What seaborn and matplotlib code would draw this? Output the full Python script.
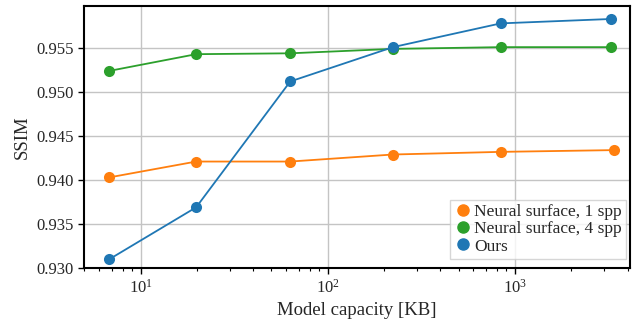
import numpy as np
import pandas as pd
import matplotlib
matplotlib.use("Agg")
import matplotlib.pyplot as plt
from matplotlib.lines import Line2D
import seaborn as sns

capacity_kb = [6.8, 19.8, 63, 223, 840, 3260]
ssim_1spp = [0.9403, 0.9421, 0.9421, 0.9429, 0.9432, 0.9434]
ssim_4spp = [0.9524, 0.9543, 0.9544, 0.9549, 0.9551, 0.9551]
ssim_ours = [0.9310, 0.9369, 0.9512, 0.9551, 0.9578, 0.9583]
labels = ["Neural surface, 1 spp", "Neural surface, 4 spp", "Ours"]
colors = ["#ff7f0e", "#2ca02c", "#1f77b4"]

df = pd.DataFrame({
    "capacity": capacity_kb * 3,
    "ssim": ssim_1spp + ssim_4spp + ssim_ours,
    "method": [labels[0]] * 6 + [labels[1]] * 6 + [labels[2]] * 6,
})
# orange point at the right end sits a bit further right
df.loc[5, "capacity"] = 3380

sns.set_theme(style="whitegrid")
plt.rcParams["font.family"] = ["Liberation Serif", "DejaVu Serif"]
plt.rcParams["mathtext.fontset"] = "dejavuserif"

fig, ax = plt.subplots(figsize=(6.34, 3.21), dpi=100)
sns.lineplot(data=df, x="capacity", y="ssim", hue="method", palette=colors,
             hue_order=labels, marker="o", markersize=8, markeredgewidth=0,
             linewidth=1.3, legend=False, ax=ax)

ax.set_xscale("log")
ax.set_xlim(5.0, 4100)
ax.set_ylim(0.930, 0.9598)
ax.set_yticks([0.930, 0.935, 0.940, 0.945, 0.950, 0.955])
ax.set_yticklabels(["0.930", "0.935", "0.940", "0.945", "0.950", "0.955"])
ax.set_xlabel("Model capacity [KB]", fontsize=13.5)
ax.set_ylabel("SSIM", fontsize=13.5)
ax.tick_params(axis="both", which="major", labelsize=12, length=4, width=1, color="black", bottom=True, left=True)
ax.tick_params(axis="x", which="minor", length=2.5, width=0.8, color="black", bottom=True)
ax.grid(True, which="major", color="#c4c4c4", linewidth=1)
ax.grid(False, which="minor")
for s in ax.spines.values():
    s.set_color("black")
    s.set_linewidth(1.5)

handles = [Line2D([], [], marker="o", linestyle="none", color=c, markersize=8) for c in colors]
leg = ax.legend(handles, labels, loc="lower right", bbox_to_anchor=(0.993, 0.035),
                fontsize=12.5, frameon=True, fancybox=False,
                handletextpad=0.1, handlelength=1.0, borderpad=0.25, labelspacing=0.05,
                borderaxespad=0)
leg.get_frame().set_edgecolor("#cccccc")

plt.subplots_adjust(left=0.133, right=0.993, top=0.982, bottom=0.165)
plt.savefig("out.png", dpi=100)
